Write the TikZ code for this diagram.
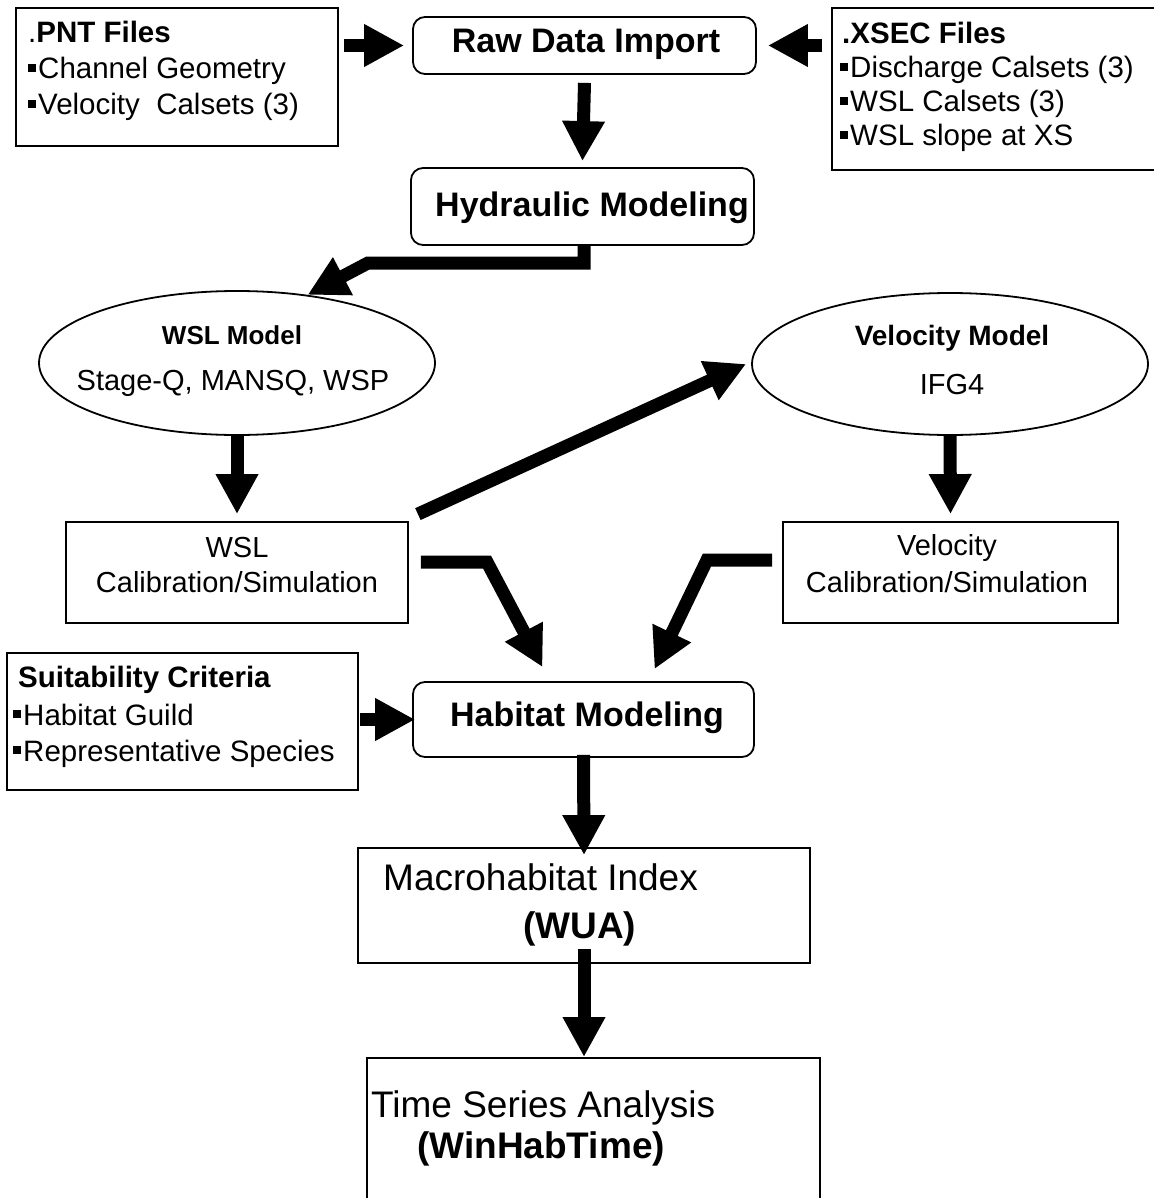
\documentclass[tikz,border=0pt]{standalone}
\usepackage{fontspec}
\setmainfont{Liberation Sans}
\usetikzlibrary{arrows.meta,shapes.geometric}
\newcommand\sqbul{\rule[0.24em]{0.28em}{0.28em}\hspace{0.06em}}
\begin{document}
\begin{tikzpicture}[x=1pt,y=-1pt,
  box/.style={draw, line width=1.8pt, inner sep=0pt},
  rbox/.style={box, rounded corners=12pt},
  oval/.style={draw, ellipse, line width=1.8pt, inner sep=0pt},
  lst/.style={inner sep=0pt, anchor=base west, font=\fontsize{29.5}{35}\selectfont},
  txt/.style={inner sep=0pt, font=\fontsize{29}{35}\selectfont},
  headb/.style={inner sep=0pt, font=\fontsize{34}{40}\selectfont\bfseries},
  ovalb/.style={inner sep=0pt, font=\fontsize{26}{30}\selectfont\bfseries},
  big/.style={inner sep=0pt, anchor=base west, font=\fontsize{37}{44}\selectfont},
  fat/.style={line width=13pt, -{Triangle[length=40pt,width=40pt]}, line join=miter},
]
\useasboundingbox (0,0) rectangle (1153,1198);
\fill[white] (0,0) rectangle (1153,1198);

% boxes
\node[box, minimum width=322pt, minimum height=138pt] (pnt) at (177,77) {};
\node[rbox, minimum width=343pt, minimum height=57pt] (raw) at (584.5,45.5) {};
\node[box, minimum width=343pt, minimum height=162pt] (xsec) at (1003.5,89) {};
\node[rbox, minimum width=343pt, minimum height=77pt] (hyd) at (582.5,206.5) {};
\node[oval, minimum width=396pt, minimum height=144pt] (wslm) at (237,363) {};
\node[oval, minimum width=396pt, minimum height=142pt] (velm) at (950,364) {};
\node[box, minimum width=342pt, minimum height=101pt] (wslc) at (237,572.5) {};
\node[box, minimum width=335pt, minimum height=101pt] (velc) at (950.5,572.5) {};
\node[box, minimum width=351pt, minimum height=137pt] (suit) at (182.5,721.5) {};
\node[rbox, minimum width=341pt, minimum height=75pt] (hab) at (583.5,719.5) {};
\node[box, minimum width=452pt, minimum height=115pt] (mac) at (584,905.5) {};
\node[box, minimum width=453pt, minimum height=200pt, anchor=north] (tsa) at (593.5,1057) {};

% texts
\node[lst] (pnt1) at (28,43) {.\textbf{PNT Files}};
\node[lst] (pnt2) at (28,79) {\sqbul Channel Geometry};
\node[lst] (pnt3) at (28,115) {\sqbul Velocity\ \ Calsets (3)};

\node[lst] (xs1) at (842,44) {\textbf{.XSEC Files}};
\node[lst] (xs2) at (840,78) {\sqbul Discharge Calsets (3)};
\node[lst] (xs3) at (840,112) {\sqbul WSL Calsets (3)};
\node[lst] (xs4) at (840,146) {\sqbul WSL slope at XS};

\node[headb] (rawt) at (586,44) {Raw Data Import};
\node[headb] (hydt) at (592,208) {Hydraulic Modeling};
\node[headb] (habt) at (587,718) {Habitat Modeling};

\node[ovalb] (wslm1) at (232,335) {WSL Model};
\node[txt] (wslm2) at (233,383) {Stage-Q, MANSQ, WSP};
\node[ovalb, font=\fontsize{28}{32}\selectfont\bfseries] (velm1) at (952,338) {Velocity Model};
\node[txt] (velm2) at (952,385) {IFG4};

\node[txt] (wslc1) at (237,548) {WSL};
\node[txt] (wslc2) at (237,582) {Calibration/Simulation};
\node[txt] (velc1) at (947,548) {Velocity};
\node[txt] (velc2) at (947,582) {Calibration/Simulation};

\node[lst] (su1) at (18,687) {\textbf{Suitability Criteria}};
\node[lst] (su2) at (13,725) {\sqbul Habitat Guild};
\node[lst] (su3) at (13,761) {\sqbul Representative Species};

\node[big] (mac1) at (383,890) {Macrohabitat Index};
\node[big] (mac2) at (523,938) {\textbf{(WUA)}};
\node[big] (tsa1) at (371,1117) {Time Series Analysis};
\node[big] (tsa2) at (417,1158) {\textbf{(WinHabTime)}};

% connectors
\draw[fat] ([xshift=5pt]pnt.east |- raw.west) -- ([xshift=-8pt]raw.west);
\draw[fat] ([xshift=-9pt]xsec.west |- raw.east) -- ([xshift=11pt]raw.east);
\draw[fat] ([yshift=-8pt]raw.south) -- ([yshift=6pt]hyd.north);
\draw[fat] (584,246) coordinate (hs) -- (584,263) -- (368,263) -- (wslm.44);
\draw[fat] (wslm.south) -- ([yshift=7pt]wslc.north);
\draw[fat] (velm.south) -- ([yshift=7pt]velc.north);
\draw[fat] ([shift={(9pt,7pt)}]wslc.north east) -- ([xshift=-5pt]velm.west);
\draw[fat] ([xshift=12pt]wslc.east |- 0,562) -- (487,562) -- ([xshift=-41pt,yshift=14pt]hab.north);
\draw[fat] ([xshift=-10pt]velc.west |- 0,560) -- (707,560) -- ([xshift=71pt,yshift=12pt]hab.north);
\draw[fat] ([xshift=1pt]suit.east |- hab.west) -- ([xshift=3pt]hab.west);
\draw[fat] ([yshift=3pt]hab.south) -- ([yshift=-8pt]mac.north);
\draw[fat] ([yshift=15pt]mac.south) -- (mac.south |- tsa.north);
\end{tikzpicture}
\end{document}
